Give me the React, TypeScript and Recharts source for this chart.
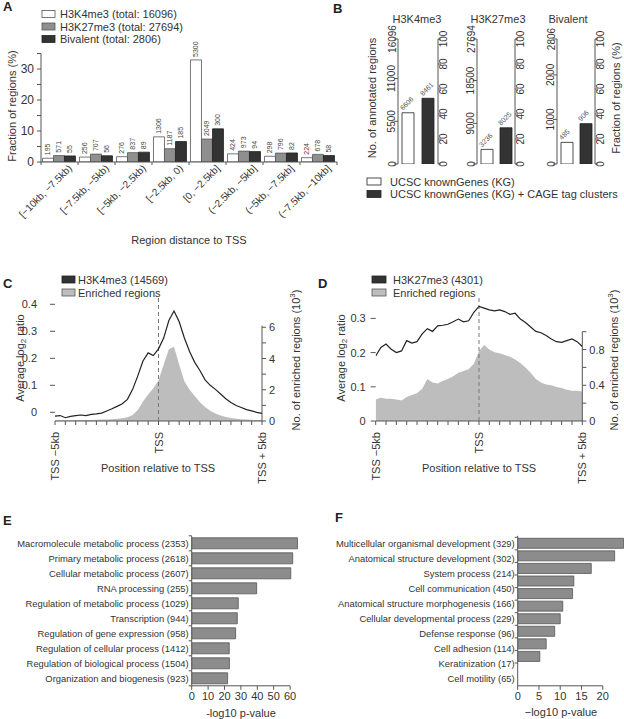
import { Area, Bar, BarChart, Cell, ComposedChart, LabelList, Line, ReferenceLine, XAxis, YAxis } from 'recharts'

const FONT = '"Liberation Sans", Arial, Helvetica, sans-serif'
const INK = '#333'
const AXIS = '#555'

// ---- A: fraction of regions by distance to TSS
const aRanges = ['[−10kb, −7.5kb)', '[−7.5kb, −5kb)', '[−5kb, −2.5kb)', '[−2.5kb, 0)', '[0, −2.5kb]', '(−2.5kb, −5kb]', '(−5kb, −7.5kb]', '(−7.5kb, −10kb]']
const aK4Frac = [1.21, 1.59, 1.71, 8.11, 32.93, 2.63, 1.85, 1.39]
const aK27Frac = [2.06, 2.55, 3.02, 4.29, 7.4, 3.51, 2.87, 2.45]
const aBivFrac = [1.96, 2.0, 3.17, 6.59, 10.69, 3.35, 2.92, 2.07]
const aK4Count = [195, 256, 276, 1306, 5300, 424, 298, 224]
const aK27Count = [571, 707, 837, 1187, 2049, 973, 796, 678]
const aBivCount = [55, 56, 89, 185, 300, 94, 82, 58]
const aYTicks = [0, 5, 10, 15, 20, 25, 30, 35]
const aSeries = ['H3K4me3 (total: 16096)', 'H3K27me3 (total: 27694)', 'Bivalent (total: 2806)']
const aFills = ['#ffffff', '#8f8f8f', '#333333']

// ---- B: annotated regions per mark
const bMarks = ['H3K4me3', 'H3K27me3', 'Bivalent']
const bTotals = [16096, 27694, 2806]
const bCountTicks = [[0, 5500, 11000, 16096], [0, 9000, 18500, 27694], [0, 1000, 2000, 2806]]
const bCountKG = [6606, 3236, 485]
const bCountCAGE = [8461, 8025, 906]
const bPctKG = [41.0, 11.7, 17.3]
const bPctCAGE = [52.6, 29.0, 32.3]
const bPctTicks = [0, 20, 40, 60, 80, 100]
const bLegend = ['UCSC knownGenes (KG)', 'UCSC knownGenes (KG) + CAGE tag clusters']
const bFills = ['#ffffff', '#333333']

// ---- C / D: profiles around TSS (kb)
const positionsKb = [-5, -4.75, -4.5, -4.25, -4, -3.75, -3.5, -3.25, -3, -2.75, -2.5, -2.25, -2, -1.75, -1.5, -1.25, -1, -0.75, -0.5, -0.25, 0, 0.25, 0.5, 0.75, 1, 1.25, 1.5, 1.75, 2, 2.25, 2.5, 2.75, 3, 3.25, 3.5, 3.75, 4, 4.25, 4.5, 4.75, 5]
const posTicks = [-5, -4.5, -4, -3.5, -3, -2.5, -2, -1.5, -1, -0.5, 0, 0.5, 1, 1.5, 2, 2.5, 3, 3.5, 4, 4.5, 5]
const cLog2 = [-0.014, -0.012, -0.02, -0.015, -0.012, -0.01, -0.012, -0.008, -0.006, -0.003, 0.005, 0.013, 0.022, 0.032, 0.048, 0.085, 0.135, 0.19, 0.22, 0.21, 0.235, 0.275, 0.34, 0.375, 0.335, 0.275, 0.225, 0.185, 0.155, 0.12, 0.1, 0.085, 0.068, 0.05, 0.036, 0.025, 0.018, 0.01, 0.005, 0.0, -0.004]
const cEnriched = [0.05, 0.05, 0.05, 0.05, 0.06, 0.06, 0.07, 0.07, 0.08, 0.09, 0.1, 0.12, 0.15, 0.18, 0.24, 0.38, 0.7, 1.25, 1.7, 2.1, 2.6, 3.6, 4.6, 4.75, 3.6, 2.55, 2.0, 1.6, 1.2, 0.9, 0.65, 0.48, 0.35, 0.26, 0.2, 0.15, 0.12, 0.1, 0.08, 0.07, 0.07]
const dLog2 = [0.19, 0.215, 0.225, 0.21, 0.2, 0.205, 0.235, 0.228, 0.232, 0.255, 0.27, 0.262, 0.278, 0.28, 0.283, 0.29, 0.298, 0.29, 0.293, 0.318, 0.335, 0.33, 0.325, 0.322, 0.325, 0.32, 0.312, 0.315, 0.298, 0.288, 0.275, 0.262, 0.258, 0.25, 0.24, 0.232, 0.23, 0.235, 0.24, 0.232, 0.218]
const dEnriched = [0.24, 0.26, 0.25, 0.25, 0.24, 0.23, 0.27, 0.29, 0.31, 0.36, 0.47, 0.43, 0.42, 0.45, 0.47, 0.5, 0.54, 0.56, 0.58, 0.64, 0.78, 0.85, 0.8, 0.77, 0.76, 0.74, 0.72, 0.69, 0.65, 0.6, 0.54, 0.47, 0.43, 0.41, 0.4, 0.38, 0.37, 0.35, 0.34, 0.34, 0.33]

// ---- E / F: GO terms
const eTerms = ['Macromolecule metabolic process (2353)', 'Primary metabolic process (2618)', 'Cellular metabolic process (2607)', 'RNA processing (255)', 'Regulation of metabolic process (1029)', 'Transcription (944)', 'Regulation of gene expression (958)', 'Regulation of cellular process (1412)', 'Regulation of biological process (1504)', 'Organization and biogenesis (923)']
const eLogP = [64.5, 61.6, 60.4, 39.6, 28.4, 27.8, 26.8, 22.9, 23.0, 21.9]
const eTicks = [0, 10, 20, 30, 40, 50, 60]
const fTerms = ['Multicellular organismal development (329)', 'Anatomical structure development (302)', 'System process (214)', 'Cell communication (450)', 'Anatomical structure morphogenesis (166)', 'Cellular developmental process (229)', 'Defense response (96)', 'Cell adhesion (114)', 'Keratinization (17)', 'Cell motility (65)']
const fLogP = [24.9, 22.8, 17.3, 13.2, 12.9, 10.6, 10.0, 8.7, 6.7, 5.2]
const fTicks = [0, 5, 10, 15, 20]

const aData = aRanges.map((range, i) => ({
  range, k4: aK4Frac[i], k27: aK27Frac[i], biv: aBivFrac[i],
  k4n: aK4Count[i], k27n: aK27Count[i], bivn: aBivCount[i],
}))

// count printed vertically above a bar
const VertCount = (props: any) => {
  const { x = 0, y = 0, width = 0, value } = props
  const cx = x + width / 2
  const ty = y - 3
  return (
    <text x={cx} y={ty} transform={`rotate(-90 ${cx} ${ty})`} fontSize={7} fill="#444" dominantBaseline="central" fontFamily={FONT}>
      {value}
    </text>
  )
}

// count printed diagonally above a bar
const DiagCount = (props: any) => {
  const { x = 0, y = 0, value } = props
  const tx = x + 1
  const ty = y - 2
  return (
    <text x={tx} y={ty} transform={`rotate(-45 ${tx} ${ty})`} fontSize={7} fill="#555" fontFamily={FONT}>
      {value}
    </text>
  )
}

const RangeTick = (props: any) => {
  const { x, y, payload, index } = props
  const off = payload?.offset ?? 18.5
  const tx = x + 13
  const ty = y + 7
  return (
    <g>
      <line x1={x + off} x2={x + off} y1={y} y2={y + 3} stroke={AXIS} />
      {index === 0 && <line x1={x - off} x2={x - off} y1={y} y2={y + 3} stroke={AXIS} />}
      <text x={tx} y={ty} transform={`rotate(-45 ${tx} ${ty})`} textAnchor="end" fontSize={10} fill={INK} fontFamily={FONT}>
        {payload.value}
      </text>
    </g>
  )
}

// label only every `step`, other ticks keep just their tick line
const EveryOtherTick = (props: any) => {
  const { x, y, payload, step, fontSize = 12, dx = 0 } = props
  const v = payload.value
  const show = Math.abs(v / step - Math.round(v / step)) < 1e-6
  if (!show) return <g />
  return (
    <text x={x + dx} y={y} textAnchor={props.textAnchor} dominantBaseline="central" fontSize={fontSize} fill={INK} fontFamily={FONT}>
      {Math.round(v * 10) / 10}
    </text>
  )
}

const RotTick = (props: any) => {
  const { x, y, payload } = props
  return (
    <text x={x} y={y} transform={`rotate(-90 ${x} ${y})`} textAnchor="middle" dominantBaseline="central" fontSize={10} fill={INK} fontFamily={FONT}>
      {payload.value}
    </text>
  )
}

const TSS_LABELS: Record<string, string> = { '-5': 'TSS −5kb', '0': 'TSS', '5': 'TSS + 5kb' }
const TssTick = (props: any) => {
  const { x, y, payload } = props
  const label = TSS_LABELS[String(payload.value)]
  if (!label) return <g />
  const ty = y + 5
  return (
    <text x={x} y={ty} transform={`rotate(-90 ${x} ${ty})`} textAnchor="end" dominantBaseline="central" fontSize={11} fill={INK} fontFamily={FONT}>
      {label}
    </text>
  )
}

function PanelA() {
  return (
    <div style={{ position: 'absolute', left: 0, top: 0 }}>
      <BarChart width={345} height={260} data={aData} margin={{ top: 53.5, right: 8, left: 0, bottom: 38 }} barCategoryGap="4%" barGap={0}>
        <XAxis dataKey="range" interval={0} height={60} tickSize={0} tickMargin={0} tickLine={false} axisLine={{ stroke: AXIS }} tick={<RangeTick />} />
        <YAxis domain={[0, 35]} ticks={aYTicks} interval={0} allowDataOverflow width={41} tickSize={4} tickMargin={3} axisLine={{ stroke: AXIS }} tickLine={{ stroke: AXIS }} tick={<EveryOtherTick step={10} fontSize={12} />} />
        <Bar dataKey="k4" fill={aFills[0]} stroke="#555" strokeWidth={0.8} isAnimationActive={false}>
          <LabelList dataKey="k4n" content={<VertCount />} />
        </Bar>
        <Bar dataKey="k27" fill={aFills[1]} stroke="#555" strokeWidth={0.8} isAnimationActive={false}>
          <LabelList dataKey="k27n" content={<VertCount />} />
        </Bar>
        <Bar dataKey="biv" fill={aFills[2]} stroke="#222" strokeWidth={0.8} isAnimationActive={false}>
          <LabelList dataKey="bivn" content={<VertCount />} />
        </Bar>
      </BarChart>
    </div>
  )
}

const bPlotLeft = [398, 477, 557]
const bPlotRight = [438, 515, 595]

function PanelB() {
  return (
    <>
      {bMarks.map((mark, i) => {
        const data = [
          { kind: 'KG', pct: bPctKG[i], count: bCountKG[i] },
          { kind: 'KG + CAGE', pct: bPctCAGE[i], count: bCountCAGE[i] },
        ]
        const boxLeft = bPlotLeft[i] - 38
        const boxW = 100
        const plotRight = bPlotRight[i] - boxLeft
        return (
          <div key={mark} style={{ position: 'absolute', left: boxLeft, top: 0 }}>
            <BarChart width={boxW} height={180} data={data} margin={{ top: 39, right: boxW - plotRight - 16, left: 0, bottom: 16 }} barCategoryGap="14%">
              <XAxis dataKey="kind" hide />
              <YAxis yAxisId="count" domain={[0, bTotals[i]]} ticks={bCountTicks[i]} interval={0} allowDataOverflow width={38} tickSize={4} tickMargin={2} axisLine={{ stroke: AXIS }} tickLine={{ stroke: AXIS }} tick={<RotTick />} />
              <YAxis yAxisId="pct" orientation="right" domain={[0, 100]} ticks={bPctTicks} interval={0} allowDataOverflow width={16} tickSize={3} tickMargin={2} axisLine={{ stroke: AXIS }} tickLine={{ stroke: AXIS }} tick={<RotTick />} />
              <Bar yAxisId="pct" dataKey="pct" barSize={12} stroke="#222" strokeWidth={0.8} isAnimationActive={false}>
                {data.map((d, j) => <Cell key={d.kind} fill={bFills[j]} />)}
                <LabelList dataKey="count" content={<DiagCount />} />
              </Bar>
            </BarChart>
          </div>
        )
      })}
    </>
  )
}

type ProfileProps = {
  left: number
  width: number
  log2: number[]
  enriched: number[]
  yAxisW: number
  lineRight: number
  lineDomain: [number, number]
  lineTicks: number[]
  lineLabelDx: number
  areaTop: number
  areaRight: number
  areaDomain: [number, number]
  areaTicks: number[]
  areaStep: number
}

function ProfilePanel(p: ProfileProps) {
  const rows = positionsKb.map((x, i) => ({ x, log2: p.log2[i], enr: p.enriched[i] }))
  return (
    <>
      <div style={{ position: 'absolute', left: p.left, top: 290 }}>
        <ComposedChart width={p.width} height={200} data={rows} margin={{ top: p.areaTop, right: p.areaRight, left: p.yAxisW, bottom: 9 }}>
          <XAxis type="number" dataKey="x" domain={[-5, 5]} ticks={posTicks} interval={0} allowDataOverflow height={60} tickSize={4} tickMargin={2} axisLine={{ stroke: AXIS }} tickLine={{ stroke: AXIS }} tick={<TssTick />} />
          <YAxis yAxisId="r" orientation="right" domain={p.areaDomain} ticks={p.areaTicks} interval={0} allowDataOverflow width={30} tickSize={4} tickMargin={3} axisLine={{ stroke: AXIS }} tickLine={{ stroke: AXIS }} tick={<EveryOtherTick step={p.areaStep} fontSize={11} />} />
          <Area yAxisId="r" type="linear" dataKey="enr" fill="#bdbdbd" fillOpacity={1} stroke="none" isAnimationActive={false} />
        </ComposedChart>
      </div>
      <div style={{ position: 'absolute', left: p.left, top: 290 }}>
        <ComposedChart width={p.width} height={140} data={rows} margin={{ top: 7, right: p.lineRight, left: 0, bottom: 9 }}>
          <XAxis type="number" dataKey="x" domain={[-5, 5]} allowDataOverflow hide />
          <YAxis domain={p.lineDomain} ticks={p.lineTicks} interval={0} allowDataOverflow width={p.yAxisW} tickSize={5} tickMargin={3} axisLine={false} tickLine={{ stroke: AXIS }} tick={<EveryOtherTick step={0.1} fontSize={11} dx={p.lineLabelDx} />} />
          <ReferenceLine x={0} stroke="#777" strokeDasharray="4 3" />
          <Line type="linear" dataKey="log2" stroke="#222" strokeWidth={1.2} dot={false} isAnimationActive={false} />
        </ComposedChart>
      </div>
    </>
  )
}

const TermTick = (props: any) => {
  const { x, y, payload, index, visibleTicksCount, edges } = props
  const off = payload?.offset ?? 7.5
  const ax = x + 3
  return (
    <g>
      <text x={x} y={y} textAnchor="end" dominantBaseline="central" fontSize={9.4} fill={INK} fontFamily={FONT}>
        {payload.value}
      </text>
      {edges && <line x1={ax - 3} x2={ax} y1={y - off} y2={y - off} stroke={AXIS} />}
      {edges && index === visibleTicksCount - 1 && <line x1={ax - 3} x2={ax} y1={y + off} y2={y + off} stroke={AXIS} />}
    </g>
  )
}

function PanelE() {
  const data = eTerms.map((term, i) => ({ term, p: eLogP[i] }))
  const last = eTerms[eTerms.length - 1]
  return (
    <div style={{ position: 'absolute', left: 0, top: 510 }}>
      <BarChart layout="vertical" width={310} height={209} data={data} margin={{ top: 25.8, right: 11.7, left: 0, bottom: 3.2 }}>
        <XAxis type="number" domain={[0, 65]} ticks={eTicks} interval={0} allowDataOverflow height={30} tickSize={4} tickMargin={2} axisLine={false} tickLine={{ stroke: AXIS }} tick={{ fontSize: 11, fill: INK, fontFamily: FONT }} />
        <YAxis type="category" dataKey="term" interval={0} width={191.7} tickSize={0} tickMargin={3} axisLine={{ stroke: AXIS }} tick={<TermTick edges />} />
        <ReferenceLine segment={[{ x: 0, y: last }, { x: 60, y: last }]} position="end" ifOverflow="visible" stroke={AXIS} />
        <Bar dataKey="p" barSize={11} fill="#8c8c8c" stroke="#555" strokeWidth={0.8} isAnimationActive={false} />
      </BarChart>
    </div>
  )
}

function PanelF() {
  const data = fTerms.map((term, i) => ({ term, p: fLogP[i] }))
  const barPad = { top: 1.5, bottom: 22.8 }
  const last = fTerms[fTerms.length - 1]
  return (
    <div style={{ position: 'absolute', left: 312, top: 510 }}>
      <BarChart layout="vertical" width={312} height={209} data={data} margin={{ top: 25.8, right: 0, left: 0, bottom: 3.2 }}>
        <XAxis type="number" domain={[0, 25]} ticks={fTicks} interval={0} allowDataOverflow height={30} tickSize={4} tickMargin={2} axisLine={false} tickLine={{ stroke: AXIS }} tick={{ fontSize: 11, fill: INK, fontFamily: FONT }} />
        <YAxis yAxisId="labels" type="category" dataKey="term" interval={0} width={205.7} tickSize={0} tickMargin={3} axisLine={{ stroke: AXIS }} tick={<TermTick />} />
        {/* bars use their own, tighter band scale (hidden, kept off the left side) */}
        <YAxis yAxisId="bars" type="category" dataKey="term" orientation="right" width={0} hide padding={barPad} />
        {fTerms.map((t) => (
          <ReferenceLine key={t} yAxisId="bars" segment={[{ x: -0.7, y: t }, { x: 0, y: t }]} position="start" ifOverflow="visible" stroke={AXIS} />
        ))}
        <ReferenceLine yAxisId="bars" segment={[{ x: -0.7, y: last }, { x: 0, y: last }]} position="end" ifOverflow="visible" stroke={AXIS} />
        <ReferenceLine yAxisId="labels" segment={[{ x: 0, y: last }, { x: 20, y: last }]} position="end" ifOverflow="visible" stroke={AXIS} />
        <Bar yAxisId="bars" dataKey="p" barSize={10} fill="#8c8c8c" stroke="#555" strokeWidth={0.8} isAnimationActive={false} />
      </BarChart>
    </div>
  )
}

function Overlay() {
  const rot = (x: number, y: number) => `rotate(-90 ${x} ${y})`
  const aLegY = [14, 26.5, 39]
  const bLegY = [181.5, 194]
  const bTitleX = [417, 498, 568]
  return (
    <svg width={624} height={719} style={{ position: 'absolute', left: 0, top: 0, pointerEvents: 'none' }} fontFamily={FONT} fill={INK}>
      <g fontSize={13} fontWeight="bold" fill="#222">
        <text x={3} y={11}>A</text>
        <text x={333} y={13}>B</text>
        <text x={3} y={288}>C</text>
        <text x={318} y={288}>D</text>
        <text x={3} y={525}>E</text>
        <text x={335} y={522}>F</text>
      </g>

      {/* A legend + axis titles */}
      {aSeries.map((name, i) => (
        <g key={name}>
          <rect x={42} y={aLegY[i] - 3.5} width={13} height={7} fill={aFills[i]} stroke={i === 2 ? '#222' : '#555'} strokeWidth={0.8} />
          <text x={60} y={aLegY[i]} dominantBaseline="central" fontSize={11}>{name}</text>
        </g>
      ))}
      <text x={189} y={244} textAnchor="middle" fontSize={11}>Region distance to TSS</text>
      <text x={12} y={106} transform={rot(12, 106)} textAnchor="middle" dominantBaseline="central" fontSize={11}>Fraction of regions (%)</text>

      {/* B titles, legend, axis titles */}
      {bMarks.map((m, i) => (
        <text key={m} x={bTitleX[i]} y={23} textAnchor="middle" fontSize={11}>{m}</text>
      ))}
      <text x={372} y={98} transform={rot(372, 98)} textAnchor="middle" dominantBaseline="central" fontSize={11}>No. of annotated regions</text>
      <text x={616} y={98} transform={rot(616, 98)} textAnchor="middle" dominantBaseline="central" fontSize={11}>Fraction of regions (%)</text>
      {bLegend.map((name, i) => (
        <g key={name}>
          <rect x={367} y={bLegY[i] - 3.5} width={14} height={7} fill={bFills[i]} stroke="#222" strokeWidth={0.8} />
          <text x={390} y={bLegY[i]} dominantBaseline="central" fontSize={11}>{name}</text>
        </g>
      ))}

      {/* C */}
      <rect x={62} y={276} width={13} height={7} fill="#333" stroke="#222" strokeWidth={0.8} />
      <text x={78} y={279.5} dominantBaseline="central" fontSize={11}>H3K4me3 (14569)</text>
      <rect x={62} y={289} width={13} height={7} fill="#bdbdbd" stroke="#555" strokeWidth={0.8} />
      <text x={78} y={292.5} dominantBaseline="central" fontSize={11}>Enriched regions</text>
      <text x={20} y={358} transform={rot(20, 358)} textAnchor="middle" dominantBaseline="central" fontSize={11}>
        Average log<tspan dy={3} fontSize={8}>2</tspan><tspan dy={-3}> ratio</tspan>
      </text>
      <text x={296} y={360} transform={rot(296, 360)} textAnchor="middle" dominantBaseline="central" fontSize={11}>
        No. of enriched regions (10<tspan dy={-4} fontSize={8}>3</tspan><tspan dy={4}>)</tspan>
      </text>
      <text x={158} y={472} textAnchor="middle" fontSize={11}>Position relative to TSS</text>

      {/* D */}
      <rect x={372} y={276} width={14} height={7} fill="#333" stroke="#222" strokeWidth={0.8} />
      <text x={393} y={279.5} dominantBaseline="central" fontSize={11}>H3K27me3 (4301)</text>
      <rect x={372} y={289} width={14} height={7} fill="#bdbdbd" stroke="#555" strokeWidth={0.8} />
      <text x={393} y={292.5} dominantBaseline="central" fontSize={11}>Enriched regions</text>
      <text x={341} y={358} transform={rot(341, 358)} textAnchor="middle" dominantBaseline="central" fontSize={11}>
        Average log<tspan dy={3} fontSize={8}>2</tspan><tspan dy={-3}> ratio</tspan>
      </text>
      <text x={614} y={360} transform={rot(614, 360)} textAnchor="middle" dominantBaseline="central" fontSize={11}>
        No. of enriched regions (10<tspan dy={-4} fontSize={8}>3</tspan><tspan dy={4}>)</tspan>
      </text>
      <text x={479} y={472} textAnchor="middle" fontSize={11}>Position relative to TSS</text>

      {/* E / F axis titles */}
      <text x={241} y={717} textAnchor="middle" fontSize={11}>-log10 p-value</text>
      <text x={561} y={715.5} textAnchor="middle" fontSize={11}>−log10 p-value</text>
    </svg>
  )
}

export default function App() {
  return (
    <div style={{ position: 'absolute', left: 0, top: 0, width: 624, height: 719, background: '#fff', overflow: 'hidden', fontFamily: FONT }}>
      <PanelA />
      <PanelB />
      <ProfilePanel
        left={0} width={300} log2={cLog2} enriched={cEnriched}
        yAxisW={55} lineRight={38} lineDomain={[-0.0322, 0.427]} lineTicks={[0, 0.1, 0.2, 0.3, 0.4]} lineLabelDx={-10}
        areaTop={35.7} areaRight={8} areaDomain={[0, 6.1]} areaTicks={[0, 1, 2, 3, 4, 5, 6]} areaStep={2}
      />
      <ProfilePanel
        left={310} width={314} log2={dLog2} enriched={dEnriched}
        yAxisW={65.7} lineRight={41.7} lineDomain={[0, 0.3626]} lineTicks={[0, 0.1, 0.2, 0.3]} lineLabelDx={-2}
        areaTop={41.7} areaRight={11.7} areaDomain={[0, 1.0]} areaTicks={[0, 0.2, 0.4, 0.6, 0.8, 1.0]} areaStep={0.4}
      />
      <PanelE />
      <PanelF />
      <Overlay />
    </div>
  )
}
